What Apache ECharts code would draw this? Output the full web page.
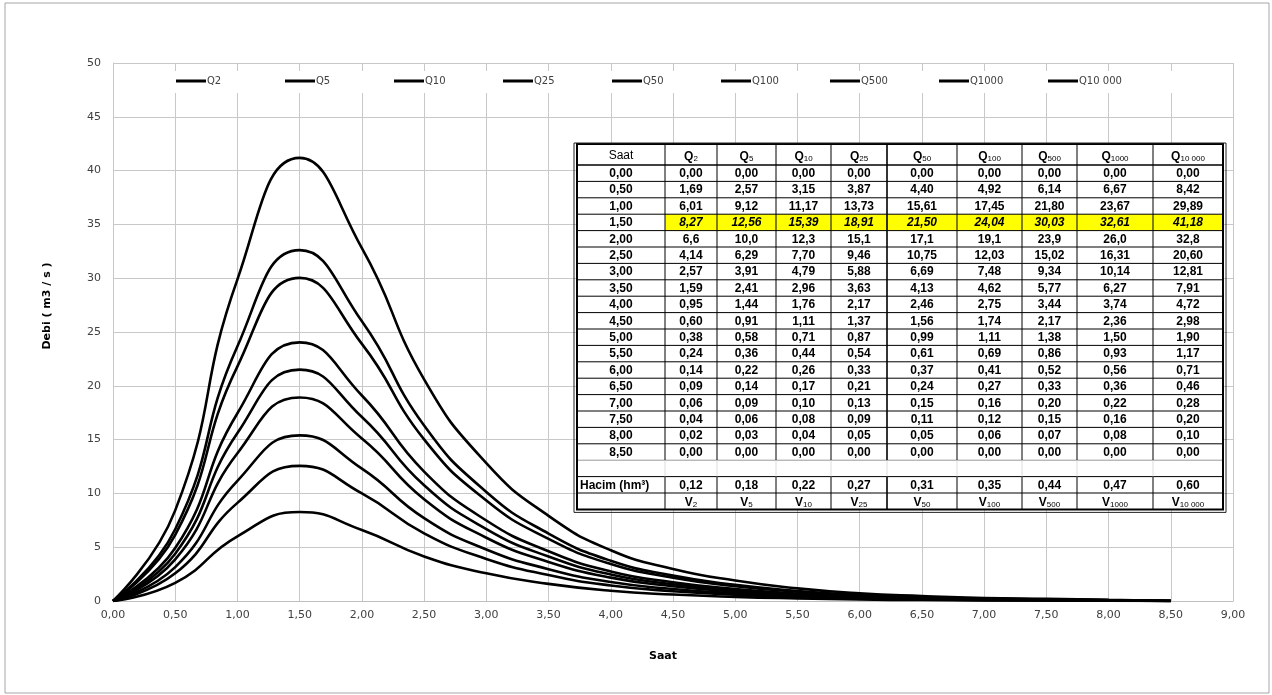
<!DOCTYPE html>
<html>
<head>
<meta charset="utf-8">
<script src="https://cdn.jsdelivr.net/npm/echarts@6/dist/echarts.min.js"></script>
<style>
html,body{margin:0;padding:0;background:#fff;}
#chart{width:1272px;height:695px;}
</style>
</head>
<body>
<div id="chart"></div>
<script>
// saat (x ekseni)
var saat = [0, 0.5, 1, 1.5, 2, 2.5, 3, 3.5, 4, 4.5, 5, 5.5, 6, 6.5, 7, 7.5, 8, 8.5];
// seri adlari
var seriAdlari = ['Q2', 'Q5', 'Q10', 'Q25', 'Q50', 'Q100', 'Q500', 'Q1000', 'Q10 000'];
var altIndis = ['2', '5', '10', '25', '50', '100', '500', '1000', '10 000'];
// debi degerleri (m3/s)
var q2     = [0, 1.69, 6.01, 8.27, 6.6, 4.14, 2.57, 1.59, 0.95, 0.60, 0.38, 0.24, 0.14, 0.09, 0.06, 0.04, 0.02, 0];
var q5     = [0, 2.57, 9.12, 12.56, 10.0, 6.29, 3.91, 2.41, 1.44, 0.91, 0.58, 0.36, 0.22, 0.14, 0.09, 0.06, 0.03, 0];
var q10    = [0, 3.15, 11.17, 15.39, 12.3, 7.70, 4.79, 2.96, 1.76, 1.11, 0.71, 0.44, 0.26, 0.17, 0.10, 0.08, 0.04, 0];
var q25    = [0, 3.87, 13.73, 18.91, 15.1, 9.46, 5.88, 3.63, 2.17, 1.37, 0.87, 0.54, 0.33, 0.21, 0.13, 0.09, 0.05, 0];
var q50    = [0, 4.40, 15.61, 21.50, 17.1, 10.75, 6.69, 4.13, 2.46, 1.56, 0.99, 0.61, 0.37, 0.24, 0.15, 0.11, 0.05, 0];
var q100   = [0, 4.92, 17.45, 24.04, 19.1, 12.03, 7.48, 4.62, 2.75, 1.74, 1.11, 0.69, 0.41, 0.27, 0.16, 0.12, 0.06, 0];
var q500   = [0, 6.14, 21.80, 30.03, 23.9, 15.02, 9.34, 5.77, 3.44, 2.17, 1.38, 0.86, 0.52, 0.33, 0.20, 0.15, 0.07, 0];
var q1000  = [0, 6.67, 23.67, 32.61, 26.0, 16.31, 10.14, 6.27, 3.74, 2.36, 1.50, 0.93, 0.56, 0.36, 0.22, 0.16, 0.08, 0];
var q10000 = [0, 8.42, 29.89, 41.18, 32.8, 20.60, 12.81, 7.91, 4.72, 2.98, 1.90, 1.17, 0.71, 0.46, 0.28, 0.20, 0.10, 0];
// hacim (hm3)
var hacim = [0.12, 0.18, 0.22, 0.27, 0.31, 0.35, 0.44, 0.47, 0.60];
// tablodaki ondalik hane sayisi (2,00 satiri tek hane)
var ondalik = [2, 2, 2, 2, 1, 2, 2, 2, 2, 2, 2, 2, 2, 2, 2, 2, 2, 2];

var qVeri = [q2, q5, q10, q25, q50, q100, q500, q1000, q10000];

function fmt(v, d) {
	return v.toFixed(d).replace('.', ',');
}

var chart = echarts.init(document.getElementById('chart'));

/******************************** seriler ********************************/
var series = seriAdlari.map(function (ad, i) {
	return {
		name: ad,
		type: 'line',
		smooth: 0.5,
		symbol: 'none',
		lineStyle: { color: '#000', width: 2.6 },
		itemStyle: { color: '#000' },
		data: saat.map(function (t, k) { return [t, qVeri[i][k]]; })
	};
});

/******************************** lejant (her seri ayri kutu) ********************************/
var legends = seriAdlari.map(function (ad, i) {
	return {
		data: [ad],
		left: 176 + i * 109,
		top: 76,
		padding: 0,
		icon: 'rect',
		itemWidth: 30,
		itemHeight: 3,
		selectedMode: false,
		itemStyle: { color: '#000' },
		textStyle: { fontSize: 10, color: '#404040', fontFamily: 'DejaVu Sans, sans-serif', padding: [0, 0, 0, -4] }
	};
});

/******************************** tablo (graphic) ********************************/
var kolon = [577, 665, 717, 776, 831, 887, 957, 1022, 1077, 1153, 1223];
var ust = 144, baslikH = 21, satirH = 16.4;
var veriUst = ust + baslikH;
var satirSayisi = saat.length + 3; // veri + bos + hacim + V
var alt = veriUst + satirSayisi * satirH;
var yaziFont = 'Liberation Sans, Arial, sans-serif';
var rich = {
	q: { fontSize: 12, fontFamily: yaziFont, fontWeight: 'bold', lineHeight: 14, verticalAlign: 'bottom' },
	s: { fontSize: 8, fontFamily: yaziFont, lineHeight: 9, verticalAlign: 'bottom' }
};
var el = [];
el.push({ type: 'rect', shape: { x: kolon[0], y: ust, width: kolon[10] - kolon[0], height: alt - ust }, style: { fill: '#fff' } });
// sari satir (1,50)
el.push({ type: 'rect', shape: { x: kolon[1], y: veriUst + 3 * satirH, width: kolon[10] - kolon[1], height: satirH }, style: { fill: '#ffff00' } });
// yatay cizgiler
for (var i = 0; i < satirSayisi; i++) {
	var yy = veriUst + i * satirH;
	el.push({ type: 'line', shape: { x1: kolon[0], y1: yy, x2: kolon[10], y2: yy },
		style: { stroke: i == 18 ? '#999' : '#000', lineWidth: i == 0 ? 1.4 : 1 } });
}
// dikey cizgiler
var bosUst = veriUst + 18 * satirH, bosAlt = veriUst + 19 * satirH;
for (var c = 1; c < kolon.length - 1; c++) {
	var lw = c == 5 ? 1.6 : 1;
	el.push({ type: 'line', shape: { x1: kolon[c], y1: ust, x2: kolon[c], y2: bosUst }, style: { stroke: '#000', lineWidth: lw } });
	el.push({ type: 'line', shape: { x1: kolon[c], y1: bosUst, x2: kolon[c], y2: bosAlt }, style: { stroke: '#ddd', lineWidth: 1 } });
	el.push({ type: 'line', shape: { x1: kolon[c], y1: bosAlt, x2: kolon[c], y2: alt }, style: { stroke: '#000', lineWidth: lw } });
}
// dis cerceve (cift cizgi)
el.push({ type: 'rect', shape: { x: kolon[0], y: ust, width: kolon[10] - kolon[0], height: alt - ust }, style: { fill: null, stroke: '#000', lineWidth: 2 } });
el.push({ type: 'rect', shape: { x: kolon[0] - 3, y: ust - 1, width: kolon[10] - kolon[0] + 6, height: alt - ust + 4 }, style: { fill: null, stroke: '#222', lineWidth: 1 } });

function hucre(txt, cx, cy, ekStil) {
	var st = { text: txt, x: cx, y: cy, align: 'center', verticalAlign: 'middle', fill: '#000',
		font: 'bold 12px ' + yaziFont };
	if (ekStil) { for (var k in ekStil) st[k] = ekStil[k]; }
	el.push({ type: 'text', style: st });
}
function orta(c) { return (kolon[c] + kolon[c + 1]) / 2; }
// baslik
hucre('Saat', orta(0), ust + baslikH / 2 + 1, { font: '12px ' + yaziFont });
for (var j = 0; j < altIndis.length; j++) {
	hucre('{q|Q}{s|' + altIndis[j] + '}', orta(j + 1), ust + baslikH / 2 + 1, { rich: rich });
}
// veri satirlari
for (var r = 0; r < saat.length; r++) {
	var cy = veriUst + r * satirH + satirH / 2 + 0.5;
	hucre(fmt(saat[r], 2), orta(0), cy);
	for (var j2 = 0; j2 < qVeri.length; j2++) {
		hucre(fmt(qVeri[j2][r], ondalik[r]), orta(j2 + 1), cy, r == 3 ? { font: 'italic bold 12px ' + yaziFont } : null);
	}
}
// hacim satiri
var hy = veriUst + 19 * satirH + satirH / 2 + 0.5;
hucre('Hacim (hm³)', kolon[0] + 3, hy, { align: 'left' });
for (var h = 0; h < hacim.length; h++) hucre(fmt(hacim[h], 2), orta(h + 1), hy);
// V satiri
var vy = veriUst + 20 * satirH + satirH / 2 + 0.5;
for (var v = 0; v < altIndis.length; v++) hucre('{q|V}{s|' + altIndis[v] + '}', orta(v + 1), vy, { rich: rich });

// tablo her seyin ustunde kalsin
el.forEach(function (e) { e.z = 100; });

// lejant arka plani (izgara cizgilerini keser)
el.push({ type: 'rect', z: 1, shape: { x: 165, y: 71, width: 1015, height: 22 }, style: { fill: '#fff' } });
// grafik cercevesi ve eksen adi
el.push({ type: 'rect', z: -10, shape: { x: 5, y: 3, width: 1264, height: 690 }, style: { fill: null, stroke: '#a6a6a6', lineWidth: 1 } });
el.push({ type: 'text', x: 47, y: 306, rotation: Math.PI / 2,
	style: { text: 'Debi ( m3 / s )', align: 'center', verticalAlign: 'middle', fill: '#000', font: 'bold 11px DejaVu Sans, sans-serif' } });

var option = {
	backgroundColor: '#fff',
	animation: false,
	grid: { left: 113, right: 39, top: 63, bottom: 94 },
	legend: legends,
	xAxis: {
		type: 'value',
		min: 0,
		max: 9,
		interval: 0.5,
		name: 'Saat',
		nameLocation: 'middle',
		nameGap: 50,
		nameTextStyle: { fontWeight: 'bold', fontSize: 11, color: '#000', fontFamily: 'DejaVu Sans, sans-serif', padding: [0, 20, 0, 0] },
		axisLine: { show: true, lineStyle: { color: '#bfbfbf' } },
		axisTick: { show: false },
		axisLabel: { margin: 9, fontSize: 11, color: '#404040', fontFamily: 'DejaVu Sans, sans-serif',
			formatter: function (val) { return fmt(val, 2); } },
		splitLine: { show: true, lineStyle: { color: '#c8c8c8', width: 1 } }
	},
	yAxis: {
		type: 'value',
		min: 0,
		max: 50,
		interval: 5,
		axisLine: { show: true, lineStyle: { color: '#c8c8c8' } },
		axisTick: { show: false },
		axisLabel: { margin: 12, fontSize: 11, color: '#404040', fontFamily: 'DejaVu Sans, sans-serif' },
		splitLine: { show: true, lineStyle: { color: '#c8c8c8', width: 1 } }
	},
	graphic: { elements: el },
	series: series
};
chart.setOption(option);
</script>
</body>
</html>
